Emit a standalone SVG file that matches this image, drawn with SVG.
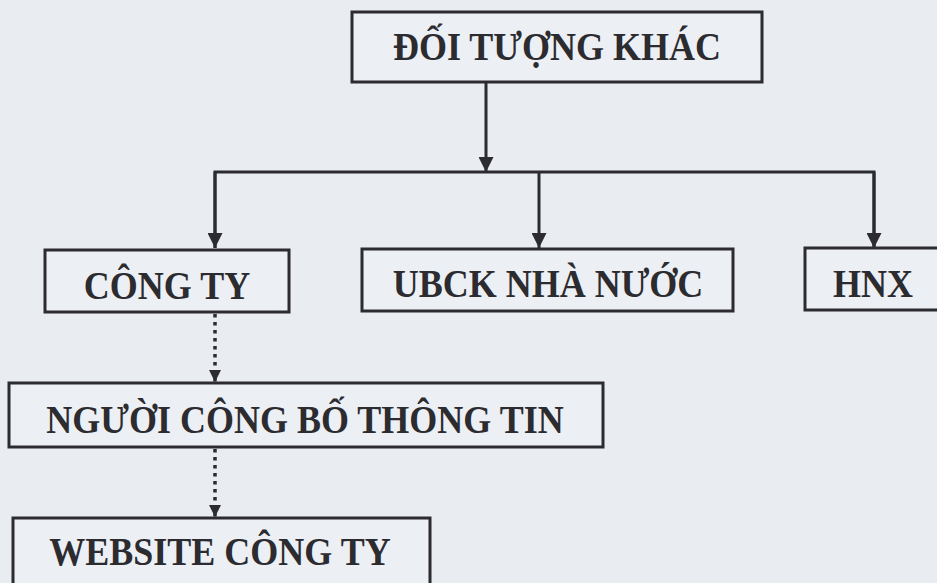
<svg xmlns="http://www.w3.org/2000/svg" width="937" height="583" viewBox="0 0 937 583">
<defs>
<style>
.box{fill:#eceff3;stroke:#2b2b30;stroke-width:3}
.lbl{font-family:"Liberation Serif","Times New Roman",serif;font-weight:bold;font-size:36px;fill:#2b2b30;text-anchor:middle}
.ln{fill:none;stroke:#2b2b30;stroke-width:3}
.dot{fill:none;stroke:#2b2b30;stroke-width:3.5;stroke-dasharray:3.5 4.5}
</style>
<marker id="ah" viewBox="0 0 10 10" refX="10" refY="5" markerWidth="15" markerHeight="15" markerUnits="userSpaceOnUse" orient="auto">
<path d="M0,0 L10,5 L0,10 Z" fill="#2b2b30"/>
</marker>
<marker id="ahs" viewBox="0 0 10 10" refX="10" refY="5" markerWidth="13" markerHeight="12" markerUnits="userSpaceOnUse" orient="auto">
<path d="M0,0 L10,5 L0,10 Z" fill="#2b2b30"/>
</marker>
</defs>
<rect width="937" height="583" fill="#e9ecf0"/>
<g id="connectors">
<line class="ln" x1="486" y1="82" x2="486" y2="172" marker-end="url(#ah)"/>
<polyline class="ln" points="215,248 215,172 874,172 874,248"/>
<line class="ln" x1="215" y1="172" x2="215" y2="248" marker-end="url(#ah)"/>
<line class="ln" x1="539" y1="172" x2="539" y2="248" marker-end="url(#ah)"/>
<line class="ln" x1="874" y1="172" x2="874" y2="248" marker-end="url(#ah)"/>
<line class="dot" x1="215" y1="314" x2="215" y2="382" marker-end="url(#ahs)"/>
<line class="dot" x1="215" y1="449" x2="215" y2="517" marker-end="url(#ahs)"/>
</g>
<g id="doi-tuong-khac">
<rect class="box" x="352" y="12" width="410" height="70"/>
<text class="lbl" transform="translate(557,60) scale(1,1.12)">ĐỐI TƯỢNG KHÁC</text>
</g>
<g id="cong-ty">
<rect class="box" x="45" y="250" width="244" height="62"/>
<text class="lbl" transform="translate(167,299) scale(1,1.12)">CÔNG TY</text>
</g>
<g id="ubck">
<rect class="box" x="362" y="249" width="371" height="62"/>
<text class="lbl" transform="translate(548,297) scale(1,1.12)">UBCK NHÀ NƯỚC</text>
</g>
<g id="hnx">
<rect class="box" x="805" y="248" width="140" height="62"/>
<text class="lbl" transform="translate(873,297) scale(1,1.12)">HNX</text>
</g>
<g id="nguoi-cbtt">
<rect class="box" x="9" y="383" width="594" height="64"/>
<text class="lbl" transform="translate(305,433) scale(1,1.12)">NGƯỜI CÔNG BỐ THÔNG TIN</text>
</g>
<g id="website">
<rect class="box" x="13" y="518" width="417" height="75"/>
<text class="lbl" transform="translate(220,565) scale(1,1.12)">WEBSITE CÔNG TY</text>
</g>
</svg>
